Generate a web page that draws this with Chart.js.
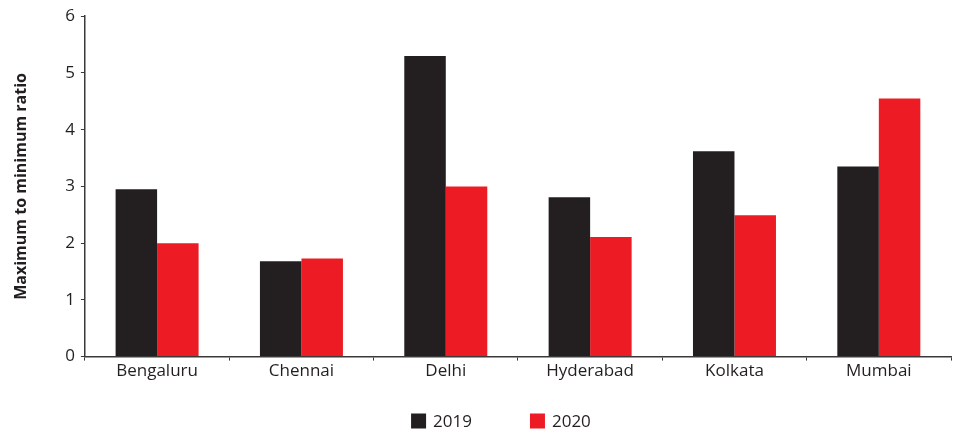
<!DOCTYPE html>
<html>
<head>
<meta charset="utf-8">
<script src="https://cdn.jsdelivr.net/npm/chart.js@4/dist/chart.umd.min.js"></script>
<style>
  html, body { margin: 0; padding: 0; background: #ffffff; }
  #wrap { width: 953px; height: 433px; }
</style>
</head>
<body>
<div id="wrap"><canvas id="c" width="953" height="433"></canvas></div>
<script>
const cities = ['Bengaluru', 'Chennai', 'Delhi', 'Hyderabad', 'Kolkata', 'Mumbai'];
const ratio2019 = [2.95, 1.68, 5.30, 2.81, 3.62, 3.35];
const ratio2020 = [2.00, 1.73, 3.00, 2.11, 2.49, 4.55];
const yTicks = [0, 1, 2, 3, 4, 5, 6];

const ink = '#231f20';
const axisColor = '#3a3a3a';
const font = "'Open Sans', 'Noto Sans', sans-serif";

// Legend row drawn under the axis: square swatch + label for each dataset
const bottomLegend = {
  id: 'bottomLegend',
  afterDraw(chart) {
    const ctx = chart.ctx;
    const box = 15, gap = 7, itemGap = 58;
    ctx.save();
    ctx.font = `17px ${font}`;
    ctx.textBaseline = 'middle';
    const items = chart.data.datasets.map(ds => ({
      text: ds.label, color: ds.backgroundColor, w: box + gap + ctx.measureText(ds.label).width
    }));
    const total = items.reduce((s, it) => s + it.w, 0) + itemGap * (items.length - 1);
    const ca = chart.chartArea;
    let x = (ca.left + ca.right) / 2 - 17 - total / 2;
    const y = chart.height - 12;
    items.forEach(it => {
      ctx.fillStyle = it.color;
      ctx.fillRect(x, y - box / 2, box, box);
      ctx.fillStyle = ink;
      ctx.fillText(it.text, x + box + gap, y + 1);
      x += it.w + itemGap;
    });
    ctx.restore();
  }
};

new Chart(document.getElementById('c'), {
  type: 'bar',
  data: {
    labels: cities,
    datasets: [
      { label: '2019', data: ratio2019, backgroundColor: ink, borderWidth: 0,
        categoryPercentage: 0.575, barPercentage: 1.0 },
      { label: '2020', data: ratio2020, backgroundColor: '#ed1c24', borderWidth: 0,
        categoryPercentage: 0.575, barPercentage: 1.0 }
    ]
  },
  plugins: [bottomLegend],
  options: {
    responsive: false,
    animation: false,
    layout: { padding: { top: 6, right: 2, left: 8, bottom: 52 } },
    plugins: {
      tooltip: { enabled: false },
      legend: { display: false }
    },
    scales: {
      x: {
        grid: { display: true, offset: true, drawOnChartArea: false, drawTicks: true,
                tickLength: 4, color: axisColor, lineWidth: 1 },
        border: { display: true, color: axisColor, width: 1.5 },
        ticks: { color: ink, font: { family: font, size: 17 }, padding: 0 }
      },
      y: {
        min: 0, max: 6,
        afterBuildTicks: (axis) => { axis.ticks = yTicks.map(v => ({ value: v })); },
        grid: { display: true, drawOnChartArea: false, drawTicks: true,
                tickLength: 4, color: axisColor, lineWidth: 1 },
        border: { display: true, color: axisColor, width: 1.5 },
        ticks: { color: ink, font: { family: font, size: 17 }, padding: 6 },
        title: {
          display: true, text: 'Maximum to minimum ratio', color: ink,
          font: { family: font, size: 16, weight: 'bold' }, padding: { bottom: 28 }
        }
      }
    }
  }
});
</script>
</body>
</html>
